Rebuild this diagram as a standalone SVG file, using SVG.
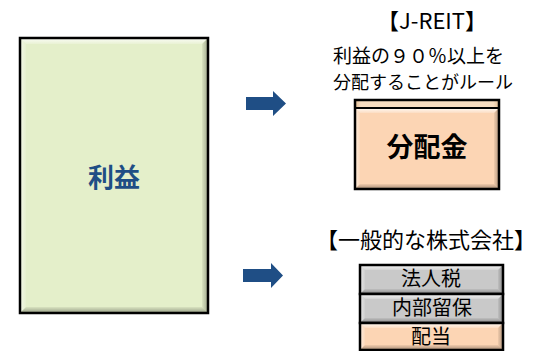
<svg xmlns="http://www.w3.org/2000/svg" width="556" height="351" viewBox="0 0 556 351">
<defs>
<style>
.jp{font-family:"Noto Sans CJK JP","Noto Sans",sans-serif;}
.lbl{fill:#000;}
.row{font-size:20px;fill:#000;text-anchor:middle;}
.edge{stroke:#000;stroke-width:2.5;fill:none;}
.arrow{fill:#1F4E85;}
</style>
<linearGradient id="gTop" x1="0" y1="0" x2="0" y2="1"><stop offset="0" stop-color="#fff" stop-opacity="0.85"/><stop offset="1" stop-color="#fff" stop-opacity="0.2"/></linearGradient>
<linearGradient id="gBot" x1="0" y1="0" x2="0" y2="1"><stop offset="0" stop-color="#000" stop-opacity="0.05"/><stop offset="1" stop-color="#000" stop-opacity="0.35"/></linearGradient>
<linearGradient id="gRight" x1="0" y1="0" x2="1" y2="0"><stop offset="0" stop-color="#000" stop-opacity="0.05"/><stop offset="1" stop-color="#000" stop-opacity="0.3"/></linearGradient>
<linearGradient id="gLeft" x1="0" y1="0" x2="1" y2="0"><stop offset="0" stop-color="#fff" stop-opacity="0.6"/><stop offset="1" stop-color="#fff" stop-opacity="0.1"/></linearGradient>
<linearGradient id="gBand" x1="0" y1="0" x2="1" y2="0"><stop offset="0" stop-color="#E0BC94"/><stop offset="0.04" stop-color="#F6DCC0"/><stop offset="0.96" stop-color="#F6DCC0"/><stop offset="1" stop-color="#E0BC94"/></linearGradient>
</defs>
<rect width="556" height="351" fill="#fff"/>

<g id="profit">
<rect x="20" y="38" width="188" height="275" fill="#E4EFCA"/>
<polygon points="20,38 208,38 202,44 26,44" fill="url(#gTop)"/>
<polygon points="20,38 26,44 26,307 20,313" fill="url(#gLeft)"/>
<polygon points="208,38 208,313 202,307 202,44" fill="url(#gRight)"/>
<polygon points="20,313 208,313 202,307 26,307" fill="url(#gBot)"/>
<rect x="20" y="38" width="188" height="275" class="edge"/>
<text x="114" y="187" class="jp" font-size="26" font-weight="bold" fill="#1F4E85" text-anchor="middle">利益</text>
</g>

<g id="connectors">
<polygon class="arrow" points="246,97 273,97 273,91 286,103.5 273,116 273,110 246,110"/>
<polygon class="arrow" points="243,269 271,269 271,263 283,275.5 271,288 271,282 243,282"/>
</g>

<g id="jreit">
<text x="432" y="29" class="jp lbl" font-size="22" text-anchor="middle">【J-REIT】</text>
<text x="333" y="63" class="jp lbl" font-size="19">利益の９０％以上を</text>
<text x="333" y="89" class="jp lbl" font-size="18">分配することがルール</text>
</g>

<g id="dividend">
<rect x="355" y="100" width="144" height="89" fill="#FCD5B4"/>
<rect x="355" y="100" width="144" height="8" fill="url(#gBand)"/>
<polygon points="355,108 499,108 494,113 360,113" fill="url(#gTop)"/>
<polygon points="355,108 360,113 360,184 355,189" fill="url(#gLeft)"/>
<polygon points="499,108 499,189 494,184 494,113" fill="url(#gRight)"/>
<polygon points="355,189 499,189 494,184 360,184" fill="url(#gBot)"/>
<rect x="355" y="100" width="144" height="89" class="edge"/>
<line x1="355" y1="108" x2="499" y2="108" stroke="#000" stroke-width="2"/>
<text x="427" y="157" class="jp" font-size="27" font-weight="bold" fill="#000" text-anchor="middle">分配金</text>
</g>

<g id="company">
<text x="426" y="248" class="jp" font-size="22" fill="#000" text-anchor="middle">【一般的な株式会社】</text>
</g>

<g id="tax">
<rect x="360" y="265" width="143" height="29" fill="#C9C9C9"/>
<polygon points="360,265 503,265 498,270 365,270" fill="url(#gTop)"/>
<polygon points="360,265 365,270 365,289 360,294" fill="url(#gLeft)"/>
<polygon points="503,265 503,294 498,289 498,270" fill="url(#gRight)"/>
<polygon points="360,294 503,294 498,289 365,289" fill="url(#gBot)"/>
<rect x="360" y="265" width="143" height="29" class="edge"/>
<text x="431" y="286" class="jp row">法人税</text>
</g>

<g id="retained">
<rect x="360" y="294" width="143" height="29" fill="#C9C9C9"/>
<polygon points="360,294 503,294 498,299 365,299" fill="url(#gTop)"/>
<polygon points="360,294 365,299 365,318 360,323" fill="url(#gLeft)"/>
<polygon points="503,294 503,323 498,318 498,299" fill="url(#gRight)"/>
<polygon points="360,323 503,323 498,318 365,318" fill="url(#gBot)"/>
<rect x="360" y="294" width="143" height="29" class="edge"/>
<text x="432" y="315" class="jp row">内部留保</text>
</g>

<g id="payout">
<rect x="360" y="323" width="143" height="27" fill="#FCD5B4"/>
<polygon points="360,323 503,323 498,328 365,328" fill="url(#gTop)"/>
<polygon points="360,323 365,328 365,345 360,350" fill="url(#gLeft)"/>
<polygon points="503,323 503,350 498,345 498,328" fill="url(#gRight)"/>
<polygon points="360,350 503,350 498,345 365,345" fill="url(#gBot)"/>
<rect x="360" y="323" width="143" height="27" class="edge"/>
<text x="431" y="344" class="jp row">配当</text>
</g>
</svg>
